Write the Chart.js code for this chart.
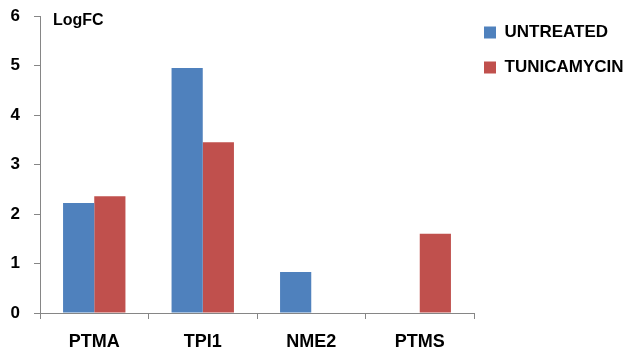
<!DOCTYPE html>
<html>
<head>
<meta charset="utf-8">
<script src="https://cdn.jsdelivr.net/npm/chart.js@4/dist/chart.umd.min.js"></script>
<style>
  html, body { margin: 0; padding: 0; background: #fff; }
  #wrap { width: 634px; height: 354px; }
</style>
</head>
<body>
<div id="wrap"><canvas id="logfcChart"></canvas></div>
<script>
// Data
const genes = ["PTMA", "TPI1", "NME2", "PTMS"];
const untreated = [2.22, 4.95, 0.83, 0];
const tunicamycin = [2.36, 3.45, 0, 1.60];
const yTicks = [0, 1, 2, 3, 4, 5, 6];

const FONT = "'Liberation Sans', Arial, sans-serif";
const axisGray = "#868686";

// Draws the "LogFC" label next to the top of the y axis
const axisLabel = {
  id: "axisLabel",
  afterDraw(chart) {
    const { ctx, chartArea } = chart;
    const y = chart.scales.y.getPixelForValue(6);
    ctx.save();
    ctx.font = "bold 16px " + FONT;
    ctx.fillStyle = "#000";
    ctx.textBaseline = "alphabetic";
    ctx.fillText("LogFC", chartArea.left + 13, y + 9);
    ctx.restore();
  }
};

// legend sits a bit closer to the plot than chart.js leaves room for
const legendNudge = {
  id: "legendNudge",
  afterLayout(chart) {
    chart.legend.left -= 8;
    chart.legend.right -= 8;
  }
};

const ctx = document.getElementById("logfcChart").getContext("2d");
new Chart(ctx, {
  type: "bar",
  data: {
    labels: genes,
    datasets: [
      {
        label: "UNTREATED",
        data: untreated,
        backgroundColor: "#4F81BD",
        borderWidth: 0
      },
      {
        label: "TUNICAMYCIN",
        data: tunicamycin,
        backgroundColor: "#C0504D",
        borderWidth: 0
      }
    ]
  },
  options: {
    responsive: true,
    maintainAspectRatio: false,
    animation: false,
    layout: { padding: { top: 6, left: 0, right: 0, bottom: 0 } },
    datasets: {
      bar: { categoryPercentage: 0.575, barPercentage: 1.0 }
    },
    plugins: {
      legend: {
        position: "right",
        align: "start",
        maxWidth: 160,
        labels: {
          boxWidth: 12,
          boxHeight: 12,
          padding: 18,
          color: "#000",
          font: { family: FONT, size: 17, weight: "bold" }
        }
      },
      tooltip: { enabled: false },
      title: { display: false }
    },
    scales: {
      x: {
        afterFit(scale) { scale.height = 41; },
        grid: {
          drawOnChartArea: false,
          tickLength: 6,
          color: axisGray
        },
        border: { color: axisGray, width: 1 },
        ticks: {
          color: "#000",
          padding: 12,
          font: { family: FONT, size: 18, weight: "bold" }
        }
      },
      y: {
        min: 0,
        max: 6,
        afterBuildTicks(scale) {
          scale.ticks = yTicks.map(v => ({ value: v }));
        },
        afterFit(scale) {
          scale.width = 40;
          scale.paddingTop = 16;
        },
        grid: {
          drawOnChartArea: false,
          tickLength: 6,
          color: axisGray
        },
        border: { color: axisGray, width: 1 },
        ticks: {
          color: "#000",
          padding: 14,
          font: { family: FONT, size: 17, weight: "bold" }
        }
      }
    }
  },
  plugins: [axisLabel, legendNudge]
});
</script>
</body>
</html>
